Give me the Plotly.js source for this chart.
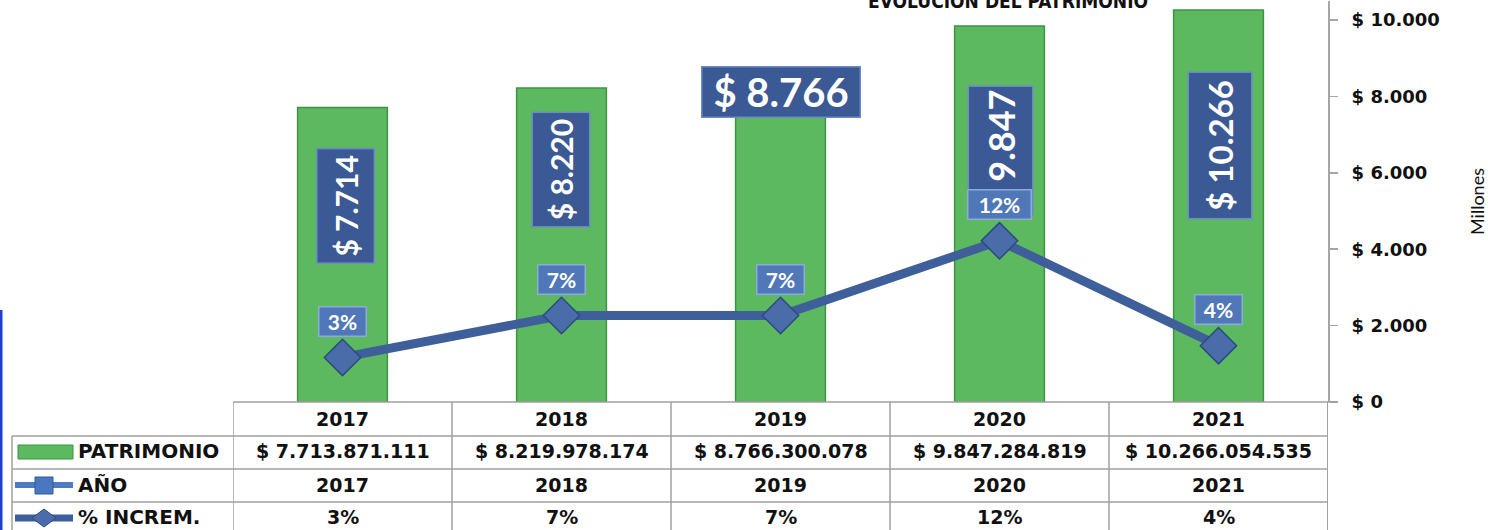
<!DOCTYPE html>
<html>
<head>
<meta charset="utf-8">
<script src="https://cdn.plot.ly/plotly-3.0.1.min.js"></script>
<style>html,body{margin:0;padding:0;background:#fff;}#chart{width:1488px;height:530px;}</style>
</head>
<body>
<div id="chart"></div>
<script>
// ---------------- DATA ----------------
const years = ['2017', '2018', '2019', '2020', '2021'];
const patrimonio = [7713871111, 8219978174, 8766300078, 9847284819, 10266054535];
const anio = [2017, 2018, 2019, 2020, 2021];
const pctIncrem = [3.4, 6.6, 6.6, 12.3, 4.3];
const rowLabels = ['PATRIMONIO', 'AÑO', '% INCREM.'];
const yTickVals = [0, 2000, 4000, 6000, 8000, 10000];
const chartTitle = 'EVOLUCION DEL PATRIMONIO';
const axisTitle = 'Millones';

// ---------------- HELPERS ----------------
const PL = 233, PR = 1328, PT = 1, PB = 402;
const W = 1488, H = 530;
const fx = x => (x - PL) / (PR - PL);
const fy = y => (PB - y) / (PB - PT);
const fmt = n => String(n).replace(/\B(?=(\d{3})+(?!\d))/g, '.');
const DOL = '&#36; ';
const millones = patrimonio.map(v => v / 1e6);

const tableFont = {family: 'DejaVu Sans', size: 19, color: '#111', weight: 'bold'};
const gridColor = '#a0a0a0';

// ---------------- TRACES ----------------
const barTrace = {
  type: 'bar', x: years, y: millones, yaxis: 'y', width: 0.41,
  marker: {color: '#5cb95f', line: {color: '#3f9443', width: 1.5}},
  hoverinfo: 'skip', showlegend: false
};
const lineTrace = {
  type: 'scatter', mode: 'lines+markers', x: years, y: pctIncrem, yaxis: 'y2',
  line: {color: '#3f5f9b', width: 9},
  marker: {symbol: 'diamond', size: 28, color: '#4a6ca9', line: {color: '#2c4a80', width: 1.5}},
  hoverinfo: 'skip', showlegend: false
};

// ---------------- ANNOTATIONS ----------------
const ann = [];
ann.push({text: chartTitle, xref: 'paper', yref: 'paper', x: fx(1008), y: fy(14),
  xanchor: 'center', yanchor: 'bottom', showarrow: false,
  font: {family: 'DejaVu Sans Condensed, DejaVu Sans', size: 19, color: '#111', weight: 'bold'}});

const barLab = [
  {rot: -90, w: 116, h: 59, dx: 3, dy: -99, fs: 30},
  {rot: -90, w: 116, h: 59, dx: -1, dy: -82, fs: 30},
  {rot: 0, w: 160, h: 52, dx: 0, dy: -25, fs: 40},
  {rot: -90, w: 130, h: 66, dx: 1, dy: -125, fs: 36},
  {rot: -90, w: 148, h: 65, dx: 2, dy: -136, fs: 33}
];
years.forEach((yr, i) => {
  const s = barLab[i];
  ann.push({text: DOL + fmt(Math.round(millones[i])), xref: 'x', yref: 'y', x: i, y: millones[i],
    xanchor: 'center', yanchor: 'middle', xshift: s.dx, yshift: s.dy, showarrow: false,
    textangle: s.rot, width: s.w - 3, height: s.h - 3, borderpad: 0, borderwidth: 1.5,
    bgcolor: '#3b5994', bordercolor: '#6d8cc6',
    font: {family: 'Lato, sans-serif', size: s.fs, color: '#ffffff', weight: 'bold'}});
});
years.forEach((yr, i) => {
  const txt = Math.round(pctIncrem[i]) + '%';
  ann.push({text: txt, xref: 'x', yref: 'y2', x: i, y: pctIncrem[i],
    xanchor: 'center', yanchor: 'middle', yshift: 36, showarrow: false,
    width: txt.length > 2 ? 62 : 46, height: 28, borderpad: 0, borderwidth: 1.5,
    bgcolor: '#5078b8', bordercolor: '#8eaadb',
    font: {family: 'Lato, sans-serif', size: 21, color: '#ffffff', weight: 'bold'}});
});

const rowY = [419, 451, 485, 517];
years.forEach((yr, i) => {
  const cells = [yr, DOL + fmt(patrimonio[i]), String(anio[i]), Math.round(pctIncrem[i]) + '%'];
  cells.forEach((c, r) => {
    ann.push({text: c, xref: 'x', yref: 'paper', x: i, y: fy(rowY[r]), xanchor: 'center',
      yanchor: 'middle', showarrow: false, font: tableFont});
  });
});
rowLabels.forEach((t, r) => {
  ann.push({text: t, xref: 'paper', yref: 'paper', x: fx(76), y: fy(rowY[r + 1]), xanchor: 'left',
    yanchor: 'middle', showarrow: false, font: Object.assign({}, tableFont, {size: 20})});
});

// ---------------- SHAPES ----------------
const shapes = [];
const hline = (y, x0, x1) => shapes.push({type: 'line', xref: 'paper', yref: 'paper',
  x0: fx(x0), x1: fx(x1), y0: fy(y), y1: fy(y), line: {color: gridColor, width: 1.5}});
hline(402, 233, 1338);
hline(436, 12, 1328);
hline(469, 12, 1328);
hline(502, 12, 1328);
shapes.push({type: 'line', xref: 'paper', yref: 'paper', x0: fx(12), x1: fx(12), y0: fy(436), y1: fy(531),
  line: {color: gridColor, width: 1.5}});
for (let k = 0; k <= years.length; k++) {
  shapes.push({type: 'line', xref: 'x', yref: 'paper', x0: k - 0.5, x1: k - 0.5, y0: fy(402), y1: fy(531),
    line: {color: gridColor, width: k === years.length ? 2 : 1.5}});
}
shapes.push({type: 'rect', xref: 'paper', yref: 'paper', x0: fx(18), x1: fx(73), y0: fy(459), y1: fy(445),
  fillcolor: '#5cb95f', line: {color: '#3f9443', width: 1}});
shapes.push({type: 'line', xref: 'paper', yref: 'paper', x0: fx(15), x1: fx(73), y0: fy(485), y1: fy(485),
  line: {color: '#4f7cc0', width: 6}});
shapes.push({type: 'rect', xref: 'paper', yref: 'paper', x0: fx(35), x1: fx(53), y0: fy(494), y1: fy(477),
  fillcolor: '#4a78c0', line: {color: '#2e5a9e', width: 1}});
shapes.push({type: 'line', xref: 'paper', yref: 'paper', x0: fx(15), x1: fx(73), y0: fy(518), y1: fy(518),
  line: {color: '#3f5f9b', width: 7}});
const dpath = (cx, cy, hw, hh) => 'M ' + fx(cx - hw) + ' ' + fy(cy) + ' L ' + fx(cx) + ' ' + fy(cy - hh) +
  ' L ' + fx(cx + hw) + ' ' + fy(cy) + ' L ' + fx(cx) + ' ' + fy(cy + hh) + ' Z';
shapes.push({type: 'path', xref: 'paper', yref: 'paper', path: dpath(44, 518, 12, 9),
  fillcolor: '#4a6ca9', line: {color: '#2c4a80', width: 1}});
shapes.push({type: 'rect', xref: 'paper', yref: 'paper', x0: fx(0), x1: fx(2.5), y0: fy(531), y1: fy(310),
  fillcolor: '#1f3fcc', line: {width: 0}});

// ---------------- LAYOUT ----------------
const layout = {
  width: W, height: H,
  margin: {l: PL, r: W - PR, t: PT, b: H - PB, pad: 0},
  paper_bgcolor: '#ffffff', plot_bgcolor: 'rgba(0,0,0,0)',
  separators: ',.',
  showlegend: false,
  xaxis: {type: 'category', range: [-0.5, 4.5], showticklabels: false, showgrid: false, zeroline: false,
    showline: false, ticks: '', fixedrange: true},
  yaxis: {side: 'right', range: [0, 10500], tickmode: 'array', tickvals: yTickVals,
    ticktext: yTickVals.map(v => DOL + fmt(v)),
    showgrid: false, zeroline: false, showline: true, linecolor: '#a6a6a6', linewidth: 2,
    ticks: 'outside', ticklen: 8, tickcolor: '#a6a6a6', tickwidth: 1.5, ticklabelstandoff: 10,
    tickfont: {family: 'DejaVu Sans', size: 18, color: '#111', weight: 'bold'},
    title: {text: axisTitle, standoff: 34, font: {family: 'Lato, sans-serif', size: 18, color: '#111'}},
    automargin: false, fixedrange: true},
  yaxis2: {overlaying: 'y', side: 'left', range: [0, 30.6], visible: false, fixedrange: true},
  annotations: ann,
  shapes: shapes
};

Plotly.newPlot('chart', [barTrace, lineTrace], layout, {displayModeBar: false, staticPlot: true});
</script>
</body>
</html>
